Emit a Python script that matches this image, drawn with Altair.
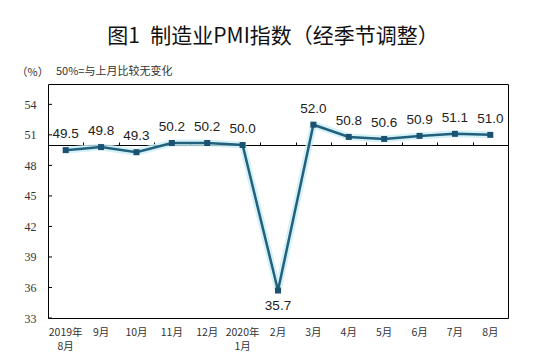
import altair as alt
import pandas as pd

months = ["2019年8月", "9月", "10月", "11月", "12月", "2020年1月", "2月",
          "3月", "4月", "5月", "6月", "7月", "8月"]
pmi = [49.5, 49.8, 49.3, 50.2, 50.2, 50.0, 35.7, 52.0, 50.8, 50.6, 50.9, 51.1, 51.0]
y_ticks = [33, 36, 39, 42, 45, 48, 51, 54]

df = pd.DataFrame({"month": months, "pmi": pmi})
df["label"] = df["pmi"].map(lambda v: f"{v:.1f}")
ticks_df = pd.DataFrame({"pmi": y_ticks})
note_df = pd.DataFrame({"txt": ["50%=与上月比较无变化"]})

LINE = "#22607c"
MARK = "#1b5272"
CJK = "Noto Sans CJK SC"

x_sort = months
yscale = alt.Scale(domain=[33, 56], nice=False, zero=False)

x_bottom = alt.X(
    "month:N", sort=x_sort, title=None,
    scale=alt.Scale(paddingInner=0, paddingOuter=0),
    axis=alt.Axis(
        orient="bottom", domain=False, ticks=False, labelAngle=0,
        labelFont=CJK, labelFontSize=10.5, labelColor="#333", labelPadding=9,
        labelLineHeight=14,
        labelExpr="length(datum.value) > 4 ? [slice(datum.value, 0, 5), slice(datum.value, 5)] : datum.value",
    ),
)
x_top = alt.X(
    "month:N", sort=x_sort, title=None,
    axis=alt.Axis(
        orient="top", offset=-61, domain=True, domainColor="#000", domainWidth=1,
        ticks=True, tickSize=3, tickColor="#000", tickBand="extent", labels=False,
    ),
)
x_none = alt.X("month:N", sort=x_sort, axis=None)

y_ax = alt.Axis(
    values=y_ticks, grid=False, ticks=False, domain=False,
    labelFont="Liberation Serif", labelFontSize=12, labelColor="#333",
    labelPadding=12,
    title="（%）", titleAngle=0, titleX=-32, titleY=-12, titleAlign="left",
    titleBaseline="middle", titleFont=CJK, titleFontSize=11,
    titleFontWeight="normal", titleColor="#333",
)
y_enc = alt.Y("pmi:Q", scale=yscale, axis=y_ax)

base = alt.Chart(df)

glow = base.mark_line(color="#c9eef6", strokeWidth=7, opacity=0.8).encode(x=x_bottom, y=y_enc)
line = base.mark_line(color=LINE, strokeWidth=2.5).encode(x=x_top, y=y_enc)
pts = base.mark_square(color=MARK, size=36, opacity=1).encode(x=x_none, y=y_enc)
lab_up = base.transform_filter("datum.pmi >= 40").mark_text(
    font="Liberation Sans", fontSize=13.5, color="#222", dy=-16, baseline="middle"
).encode(x=x_none, y=y_enc, text="label:N")
lab_dn = base.transform_filter("datum.pmi < 40").mark_text(
    font="Liberation Sans", fontSize=13.5, color="#222", dy=15, baseline="middle"
).encode(x=x_none, y=y_enc, text="label:N")

yt = alt.Chart(ticks_df).mark_rule(color="#000", strokeWidth=1).encode(
    x=alt.value(0), x2=alt.value(4), y=y_enc
)
note = alt.Chart(note_df).mark_text(
    font=CJK, fontSize=11, color="#333", align="left", baseline="middle"
).encode(x=alt.value(8), y=alt.value(-12), text="txt:N")

chart = alt.layer(glow, line, pts, lab_up, lab_dn, yt, note).resolve_axis(
    x="independent"
).properties(
    width=460, height=234,
    autosize=alt.AutoSizeParams(type="none"),
    padding={"left": 40, "top": 76, "right": 35, "bottom": 34},
    background="#ffffff",
    title=alt.TitleParams(
        "图1\u2002制造业PMI指数\u200b（经季节调整）", font=CJK, fontSize=21,
        fontWeight="normal", color="#111", anchor="middle", baseline="bottom",
        offset=5, dx=-5, dy=7,
    ),
).configure_view(stroke="#000", strokeWidth=1)

chart.save("out.html", embed_options={"renderer": "svg", "actions": False})
